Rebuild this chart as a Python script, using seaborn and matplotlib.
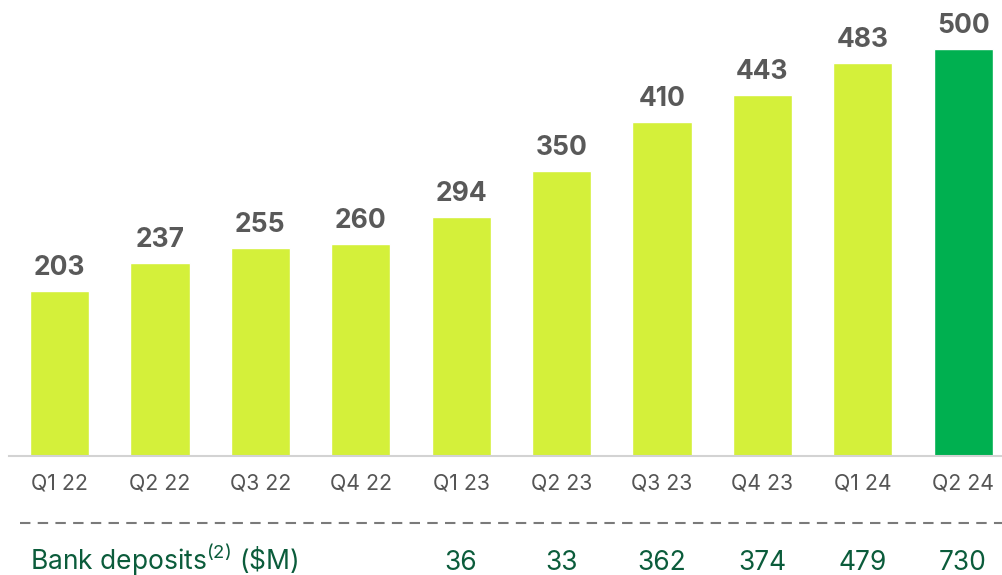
import numpy as np
import pandas as pd
import matplotlib
matplotlib.use("Agg")
import matplotlib.pyplot as plt
import matplotlib.transforms as mtransforms
import seaborn as sns

quarters = ["Q1 22", "Q2 22", "Q3 22", "Q4 22", "Q1 23", "Q2 23", "Q3 23", "Q4 23", "Q1 24", "Q2 24"]
values = [203, 237, 255, 260, 294, 350, 410, 443, 483, 500]
deposits = ["", "", "", "", "36", "33", "362", "374", "479", "730"]

LIME = "#d4f03a"
GREEN = "#00b050"
colors = [LIME] * 9 + [GREEN]

sns.set_theme(style="white")
plt.rcParams["font.family"] = ["Inter", "DejaVu Sans"]

fig = plt.figure(figsize=(10.02, 5.75), dpi=100)
ax = fig.add_axes([9 / 1002, 119 / 575, 993 / 1002, 456 / 575])

df = pd.DataFrame({"quarter": quarters, "value": values})
sns.barplot(data=df, x="quarter", y="value", hue="quarter", palette=colors,
            legend=False, width=0.59, saturation=1, ax=ax)

ax.set_xlim(-0.503, 9.387)
ax.set_ylim(0, 560)
for s in ["top", "right", "left"]:
    ax.spines[s].set_visible(False)
ax.spines["bottom"].set_color("#d3d3d3")
ax.spines["bottom"].set_linewidth(1.5)
ax.set_yticks([])
ax.set_xlabel("")
ax.set_ylabel("")
ax.tick_params(axis="x", length=0, pad=12.5, labelsize=15.3, labelcolor="#555555")

for i, v in enumerate(values):
    ax.annotate(str(v), (i, v), xytext=(0, 11.5), textcoords="offset points",
                ha="center", va="baseline", fontsize=19, fontweight="bold",
                color="#595959")

trans = mtransforms.blended_transform_factory(ax.transData, fig.transFigure)
# dashed separator
fig.add_artist(plt.Line2D([20 / 1002, 1.0], [52 / 575, 52 / 575], transform=fig.transFigure,
                          color="#7a7a7a", lw=1.5, dashes=(5, 3.5)))

fig.text(30 / 1002, 5 / 575, "Bank deposits$^{\\mathregular{(2)}}$ (\\$M)", ha="left",
         va="baseline", fontsize=19, color="#0b5c3b")
for i, d in enumerate(deposits):
    if d:
        ax.text(i, 5 / 575, d, transform=trans, ha="center", va="baseline",
                fontsize=19, color="#0b5c3b")

fig.savefig("out.png", dpi=100)
